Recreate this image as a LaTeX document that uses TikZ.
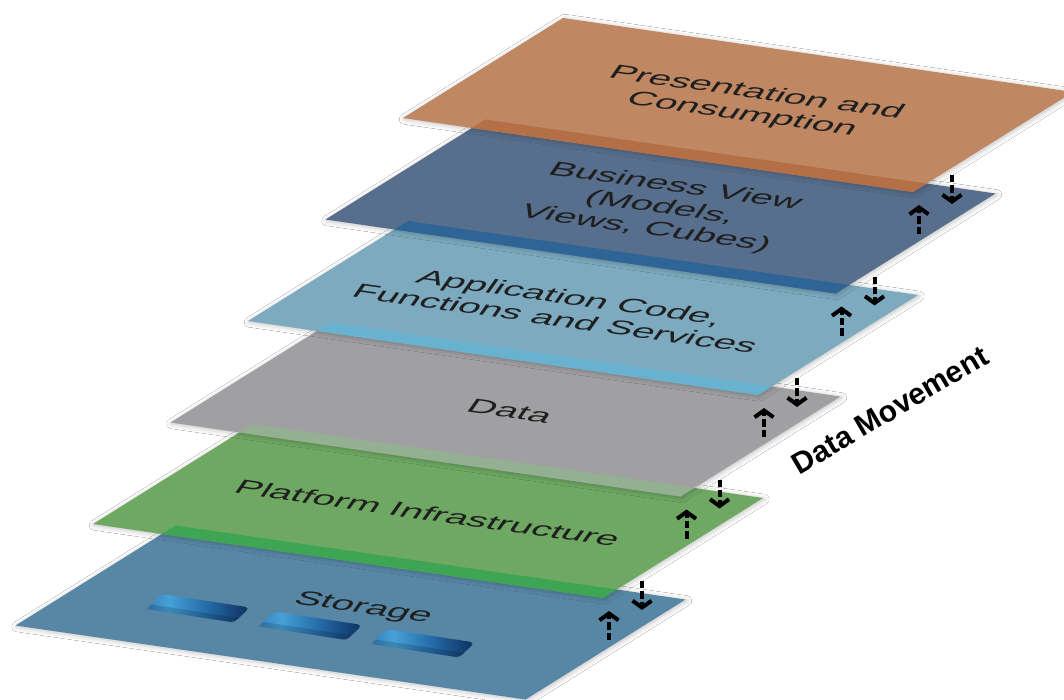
\documentclass[tikz,border=0pt]{standalone}
\usepackage{fontspec}
\setmainfont{Liberation Sans}
\usetikzlibrary{calc,arrows.meta,shadows.blur}
\definecolor{cOr}{RGB}{191,135,98}
\definecolor{bOr}{RGB}{181,111,70}
\definecolor{cBu}{RGB}{87,110,140}
\definecolor{bBu}{RGB}{46,100,150}
\definecolor{cAp}{RGB}{125,170,190}
\definecolor{bAp}{RGB}{104,178,208}
\definecolor{cDa}{RGB}{160,160,162}
\definecolor{bDa}{RGB}{148,176,146}
\definecolor{cGr}{RGB}{110,168,98}
\definecolor{bGr}{RGB}{62,165,84}
\definecolor{cSt}{RGB}{88,135,165}
\definecolor{dk1}{RGB}{16,50,98}
\definecolor{dk2}{RGB}{35,95,155}
\definecolor{dk3}{RGB}{70,160,215}
\definecolor{dk4}{RGB}{35,105,165}
\definecolor{dk5}{RGB}{18,55,105}
\definecolor{dk6}{RGB}{40,105,160}
\definecolor{dk7}{RGB}{60,135,190}
\pgfdeclarehorizontalshading{diskshade}{100bp}{color(0bp)=(dk1); color(12bp)=(dk2); color(36bp)=(dk3); color(55bp)=(dk4); color(72bp)=(dk5); color(80bp)=(dk5); color(92bp)=(dk6); color(100bp)=(dk7)}
\begin{document}
\begin{tikzpicture}[x=0.5pt,y=-0.5pt,
  layer/.style={blur shadow={shadow xshift=0.6pt,shadow yshift=-0.6pt,shadow blur radius=2.5pt,shadow opacity=25}},
  lbl/.style={align=center,inner sep=0pt,text=black!88,
    font=\fontsize{19.5}{22}\selectfont,cm={0.99,-0.14,0.34,0.48,(0,0)}},
  flow/.style={line width=2pt,dash pattern=on 3.6pt off 1.6pt,
    -{Straight Barb[length=3.4pt,width=9.5pt]}},
  disk/.style={shading=diskshade,rounded corners=2.5pt}]
\useasboundingbox (0,0) rectangle (1064,700);
\fill[white] (0,0) rectangle (1064,700);
\begin{scope}
\clip (0,0) rectangle (1064,700);
% layers, from bottom to top
\foreach \k/\fc/\bc in {5/cSt/cSt,4/cGr/bGr,3/cDa/bDa,2/cAp/bAp,1/cBu/bBu,0/cOr/bOr}{
  \coordinate (L\k) at ({403-77.5*\k},{118+101.5*\k});
  \coordinate (T\k) at ({563-77.5*\k},{18+101.5*\k});
  \coordinate (R\k) at ({1073-77.5*\k},{92+101.5*\k});
  \coordinate (B\k) at ({913-77.5*\k},{192+101.5*\k});
  \fill[\fc,layer] (L\k) -- (T\k) -- (R\k) -- (B\k) -- cycle;
  \ifnum\k<5
    \fill[\bc] ($(L\k)!0.135!(B\k)$) -- (B\k) -- ($(B\k)!0.085!(R\k)$)
      -- ($(L\k)!0.135!(B\k)+(13.6,-8.5)$) -- cycle;
  \fi
}
% storage disks
\foreach \i in {0,1,2}{
  \coordinate (D\i) at ({162+112.5*\i},{594+17.5*\i});
  \shade[disk] (D\i) -- ++(88,13.5) -- ++(-16,15) -- ++(-88,-13.5) -- cycle;
  \fill[black,opacity=0.15] ($(D\i)+(-11,10.5)$) -- ++(88,13.5) -- ++(-5,4.5) -- ++(-88,-13.5) -- cycle;
}
% labels
\node[lbl] (pres) at (749,104) {Presentation and\\Consumption};
\node[lbl] (bus) at (660,208) {Business View\\(Models,\\Views, Cubes)};
\node[lbl] (app) at (563,308) {Application Code,\\Functions and Services};
\node[lbl] (data) at (510,411) {Data};
\node[lbl] (plat) at (428,513) {Platform Infrastructure};
\node[lbl] (stor) at (363,608) {Storage};
\node[font=\bfseries\fontsize{15}{18}\selectfont,rotate=30.5,inner sep=0pt] (dm) at (890,410) {Data Movement};
% data movement arrows
\foreach \j in {0,...,4}{
  \coordinate (ds\j) at ({952-77.5*\j},{175+101.5*\j});
  \coordinate (de\j) at ({952-77.5*\j},{204+101.5*\j});
  \coordinate (us\j) at ({919-77.5*\j},{234+101.5*\j});
  \coordinate (ue\j) at ({919-77.5*\j},{205+101.5*\j});
  \draw[flow] (ds\j) -- (de\j);
  \draw[flow] (us\j) -- (ue\j);
}
\end{scope}
\end{tikzpicture}
\end{document}
